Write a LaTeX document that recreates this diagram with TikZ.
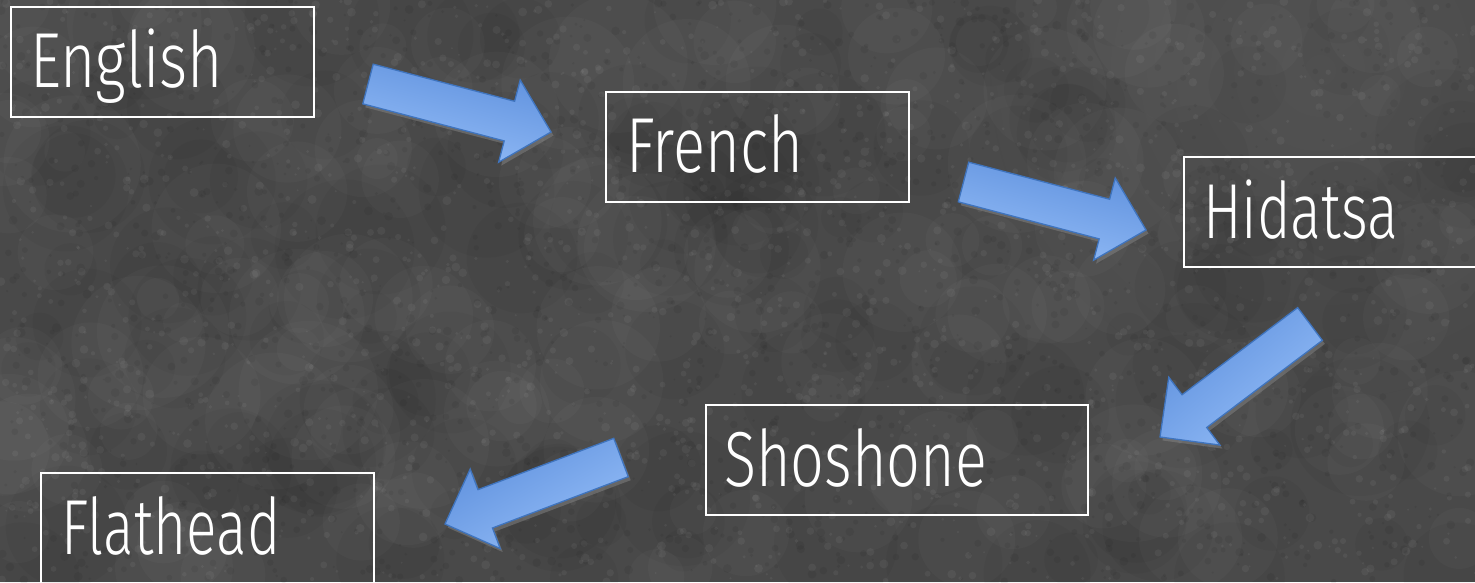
\documentclass[tikz,border=0pt]{standalone}
\usepackage{fontspec}
\usetikzlibrary{calc,shadows}
\newfontfamily\lblfont{Fira Sans Light}
\definecolor{bgc}{HTML}{494949}
\definecolor{arrowedge}{HTML}{3F74BE}
\definecolor{arrowdark}{HTML}{5E90DD}
\definecolor{arrowlight}{HTML}{95BEF8}
\tikzset{
  box/.style={draw=white, line width=1.8pt, anchor=north west, inner sep=0pt,
              minimum height=110pt},
  lbl/.style={text=white, anchor=base west, inner sep=0pt,
              font=\lblfont\fontsize{78}{90}\selectfont},
  blk/.style={draw=arrowedge, line width=1.3pt, line join=miter,
              top color=arrowdark, bottom color=arrowlight,
              drop shadow={opacity=0.55, shadow xshift=2.5pt, shadow yshift=-3.5pt}},
}
\newcommand\fitlabel[2]{\resizebox{#1}{\height}{#2}}
% #1 shading angle, #2 tail coordinate, #3 tip coordinate
\newcommand\blockarrow[3]{%
  \coordinate (#2-hb) at ($(#3)!43pt!(#2)$);
  \path[blk, shading angle=#1]
    ($(#2)!20.5pt!90:(#3)$) --
    ($(#2-hb)!20.5pt!90:(#3)$) --
    ($(#2-hb)!42.5pt!90:(#3)$) --
    (#3) --
    ($(#2-hb)!42.5pt!-90:(#3)$) --
    ($(#2-hb)!20.5pt!-90:(#3)$) --
    ($(#2)!20.5pt!-90:(#3)$) -- cycle;
}
\begin{document}
\begin{tikzpicture}[x=1pt, y=-1pt]
  \useasboundingbox (0,0) rectangle (1475,582);
  \clip (0,0) rectangle (1475,582);
  % background
  \fill[bgc] (0,0) rectangle (1475,582);
  \pgfmathsetseed{11}
  \foreach \i in {1,...,160} {
    \fill[white, opacity=0.025] (rnd*1475, rnd*582) circle ({20+rnd*50});
  }
  \foreach \i in {1,...,160} {
    \fill[black, opacity=0.03] (rnd*1475, rnd*582) circle ({20+rnd*50});
  }
  \foreach \i in {1,...,1800} {
    \fill[white, opacity=0.05] (rnd*1475, rnd*582) circle ({1+rnd*3.5});
  }
  \foreach \i in {1,...,1800} {
    \fill[black, opacity=0.06] (rnd*1475, rnd*582) circle ({1+rnd*3.5});
  }
  \shade[inner color=white, outer color=bgc, opacity=0.05] (1320,70) circle (330);

  % boxes
  \node[box, minimum width=303pt] (english)  at (10,6)    {};
  \node[box, minimum width=303pt] (french)   at (605,91)  {};
  \node[box, minimum width=320pt] (hidatsa)  at (1183,156) {};
  \node[box, minimum width=382pt] (shoshone) at (705,404) {};
  \node[box, minimum width=333pt, minimum height=114pt] (flathead) at (40,472) {};

  % labels
  \node[lbl] (english-t)  at ($(english.north west)+(20,81)$)  {\fitlabel{193pt}{English}};
  \node[lbl] (french-t)   at ($(french.north west)+(21,81)$)   {\fitlabel{177pt}{French}};
  \node[lbl] (hidatsa-t)  at ($(hidatsa.north west)+(20,82)$)  {\fitlabel{195pt}{Hidatsa}};
  \node[lbl] (shoshone-t) at ($(shoshone.north west)+(19,82)$) {\fitlabel{263pt}{Shoshone}};
  \node[lbl] (flathead-t) at ($(flathead.north west)+(21,82)$) {\fitlabel{219pt}{Flathead}};

  % arrow end points
  \coordinate (a1) at (368,84);    \coordinate (b1) at (551,132);
  \coordinate (a2) at (963.5,182); \coordinate (b2) at (1146,230);
  \coordinate (a3) at (1310,324);  \coordinate (b3) at (1160,437);
  \coordinate (a4) at (621,457.5); \coordinate (b4) at (445,524);

  \blockarrow{-15}{a1}{b1}
  \blockarrow{-15}{a2}{b2}
  \blockarrow{40}{a3}{b3}
  \blockarrow{30}{a4}{b4}
\end{tikzpicture}
\end{document}
